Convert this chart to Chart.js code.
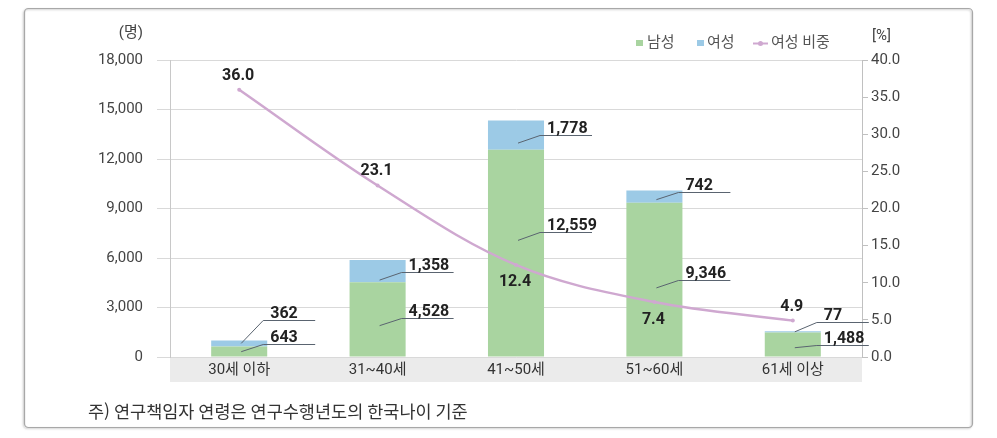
<!DOCTYPE html>
<html lang="ko">
<head>
<meta charset="utf-8">
<title>연구책임자 연령별 현황</title>
<script src="https://cdn.jsdelivr.net/npm/chart.js@4/dist/chart.umd.min.js"></script>
<style>
  html, body { margin: 0; padding: 0; background: #fff; overflow: hidden; }
  canvas { display: block; }
</style>
</head>
<body>
<canvas id="chart" width="997" height="438"></canvas>
<script>
'use strict';

/* ── Data ──────────────────────────────────────────────── */
const categories  = ['30세 이하', '31~40세', '41~50세', '51~60세', '61세 이상'];
const male        = [643, 4528, 12559, 9346, 1488];
const female      = [362, 1358, 1778, 742, 77];
const femaleShare = [36.0, 23.1, 12.4, 7.4, 4.9];

/* ── Style ─────────────────────────────────────────────── */
const FONT   = 'Roboto, "Noto Sans CJK KR", sans-serif';
const GREEN  = '#a9d4a0';
const BLUE   = '#9ccae6';
const PINK   = '#cfa8d0';
const GRID   = '#d9d9d9';

// callout tweaks in px, relative to middle of the segment: [leader start dy, underline dy]
const maleCallout   = [[0, -8], [6, -2], [-13, -21], [8, 0], [3, 0]];
const femaleCallout = [[0, -23], [9, 1], [8, 0], [3, -5], [0, -10]];
// share labels: dy from the point
const shareDy = [-14, -14, 17, 18, -14];

const fmt = v => v.toLocaleString('en-US');

/* ── Decorations plugin ────────────────────────────────── */
const decorations = {
  id: 'decorations',
  beforeDraw(chart) {
    const { ctx, chartArea, scales } = chart;
    ctx.save();
    ctx.fillStyle = '#fff';
    ctx.fillRect(0, 0, chart.width, chart.height);

    // outer frame
    ctx.shadowColor = 'rgba(0,0,0,0.25)';
    ctx.shadowBlur = 2;
    ctx.shadowOffsetX = -1;
    ctx.shadowOffsetY = 1;
    ctx.strokeStyle = '#a8a8a8';
    ctx.lineWidth = 1.2;
    ctx.beginPath();
    ctx.roundRect(24.5, 8.5, 948, 419, 4);
    ctx.stroke();
    ctx.shadowColor = 'transparent';

    // grey band under the category labels
    ctx.fillStyle = '#ebebeb';
    ctx.fillRect(chartArea.left, chartArea.bottom, chartArea.right - chartArea.left, scales.x.bottom - chartArea.bottom);
    ctx.restore();
  },
  afterDatasetsDraw(chart) {
    const { ctx } = chart;
    const x = chart.scales.x, y = chart.scales.y, y1 = chart.scales.y1;
    ctx.save();
    ctx.font = 'bold 16px ' + FONT;
    ctx.fillStyle = '#222';
    ctx.textBaseline = 'alphabetic';

    const callout = (cx, midY, tweak, text) => {
      const sy = midY + tweak[0];
      const uy = Math.round(midY + tweak[1]) + 0.5;
      const ux = cx + 24;
      ctx.strokeStyle = '#5a6470';
      ctx.lineWidth = 1;
      ctx.beginPath();
      ctx.moveTo(cx + 2, sy);
      ctx.lineTo(ux, uy);
      ctx.lineTo(ux + 52, uy);
      ctx.stroke();
      ctx.textAlign = 'left';
      ctx.fillText(text, ux + 7, uy - 3);
    };

    categories.forEach((c, i) => {
      const cx = x.getPixelForValue(i);
      callout(cx, y.getPixelForValue(male[i] / 2), maleCallout[i], fmt(male[i]));
      callout(cx, y.getPixelForValue(male[i] + female[i] / 2), femaleCallout[i], fmt(female[i]));

      ctx.textAlign = 'center';
      ctx.textBaseline = 'middle';
      ctx.fillText(femaleShare[i].toFixed(1), cx - 1, y1.getPixelForValue(femaleShare[i]) + shareDy[i]);
      ctx.textBaseline = 'alphabetic';
    });
    ctx.restore();
  },
  afterDraw(chart) {
    const { ctx } = chart;
    ctx.save();
    ctx.textBaseline = 'middle';
    ctx.fillStyle = '#444';
    ctx.font = '15px ' + FONT;
    ctx.textAlign = 'right';
    ctx.fillText('(명)', 143, 33);
    ctx.textAlign = 'left';
    ctx.fillText('[%]', 872, 36);

    // legend
    ctx.font = '15px ' + FONT;
    ctx.fillStyle = GREEN;
    ctx.fillRect(636, 40, 7, 6);
    ctx.fillStyle = BLUE;
    ctx.fillRect(697, 40, 7, 6);
    ctx.strokeStyle = PINK;
    ctx.lineWidth = 2;
    ctx.beginPath();
    ctx.moveTo(753, 43.5);
    ctx.lineTo(768, 43.5);
    ctx.stroke();
    ctx.fillStyle = PINK;
    ctx.beginPath();
    ctx.arc(760.5, 43.5, 2.5, 0, Math.PI * 2);
    ctx.fill();
    ctx.fillStyle = '#555';
    ctx.fillText('남성', 647, 43);
    ctx.fillText('여성', 707, 43);
    ctx.fillText('여성 비중', 771, 43);

    // footnote
    ctx.fillStyle = '#333';
    ctx.font = '17.5px "Noto Sans CJK KR", sans-serif';
    ctx.fillText('주) 연구책임자 연령은 연구수행년도의 한국나이 기준', 88, 411);
    ctx.restore();
  }
};

/* ── Chart ─────────────────────────────────────────────── */
new Chart(document.getElementById('chart'), {
  data: {
    labels: categories,
    datasets: [
      {
        type: 'line',
        label: '여성 비중',
        data: femaleShare,
        yAxisID: 'y1',
        borderColor: PINK,
        backgroundColor: PINK,
        borderWidth: 2.5,
        tension: 0.35,
        pointRadius: 2,
        pointBorderWidth: 0,
        order: 0,
      },
      {
        type: 'bar',
        label: '남성',
        data: male,
        yAxisID: 'y',
        backgroundColor: GREEN,
        barPercentage: 0.405,
        categoryPercentage: 1,
        order: 1,
      },
      {
        type: 'bar',
        label: '여성',
        data: female,
        yAxisID: 'y',
        backgroundColor: BLUE,
        barPercentage: 0.405,
        categoryPercentage: 1,
        order: 1,
      },
    ],
  },
  options: {
    responsive: false,
    animation: false,
    layout: { padding: { top: 60, bottom: 56, left: 0, right: 0 } },
    plugins: {
      legend: { display: false },
      tooltip: { enabled: false },
    },
    scales: {
      x: {
        stacked: true,
        offset: true,
        grid: { display: false, drawTicks: false, tickLength: 0 },
        border: { display: false },
        ticks: { color: '#333', font: { size: 15, family: FONT }, padding: 4 },
        afterFit: s => { s.height = 25; },
      },
      y: {
        stacked: true,
        position: 'left',
        min: 0, max: 18000,
        ticks: { stepSize: 3000, color: '#444', font: { size: 15, family: FONT }, padding: 14, callback: v => fmt(v) },
        grid: { color: GRID, tickLength: 13, tickColor: GRID },
        border: { display: true, color: '#c8c8c8' },
        afterFit: s => { s.width = 170; },
      },
      y1: {
        position: 'right',
        min: 0, max: 40,
        ticks: { stepSize: 5, color: '#444', font: { size: 15, family: FONT }, padding: 3, callback: v => v.toFixed(1) },
        grid: { drawOnChartArea: false, tickLength: 6, tickColor: '#c0c0c0' },
        border: { display: true, color: '#c0c0c0' },
        afterFit: s => { s.width = 135; },
      },
    },
  },
  plugins: [decorations],
});
</script>
</body>
</html>
